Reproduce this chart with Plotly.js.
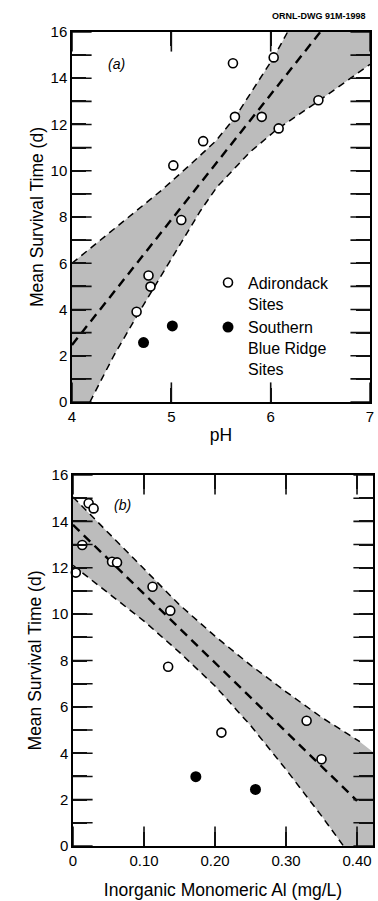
<!DOCTYPE html>
<html>
<head>
<meta charset="utf-8">
<script src="https://cdn.plot.ly/plotly-3.0.1.min.js"></script>
<style>html,body{margin:0;padding:0;background:#fff;}#chart{width:378px;height:901px;}</style>
</head>
<body>
<div id="chart"></div>
<script>
// ---------- Panel (a): survival time vs pH ----------
const phRangeA = [4, 7];
const survRange = [0, 16];
const adkPH   = [5.62, 6.03, 6.48, 5.64, 5.91, 6.08, 5.32, 5.02, 5.10, 4.77, 4.79, 4.65];
const adkSurvA = [14.65, 14.9, 13.05, 12.33, 12.33, 11.83, 11.28, 10.23, 7.87, 5.47, 4.99, 3.9];
const sbrPH   = [4.72, 5.01];
const sbrSurvA = [2.57, 3.29];
// regression line and confidence limits
const fitA_x = [4.0, 6.5];
const fitA_y = [2.47, 16.0];
const upperA_x = [4.0, 4.3, 4.6, 4.9, 5.2, 5.45, 5.64, 6.03, 6.17];
const upperA_y = [6.0, 7.05, 8.1, 9.15, 10.3, 11.3, 12.3, 14.9, 16.0];
const lowerA_x = [4.18, 4.42, 4.65, 4.89, 5.1, 5.29, 5.46, 5.79, 6.06, 6.51, 7.0];
const lowerA_y = [0.0, 2.0, 3.7, 5.4, 6.9, 8.25, 9.3, 10.8, 11.78, 13.1, 14.6];
const xTickValsA = [4, 5, 6, 7];
const xTickTextA = ['4', '5', '6', '7'];

// ---------- Panel (b): survival time vs inorganic monomeric Al ----------
const alRangeB = [0, 0.4225];
const adkAl   = [0.022, 0.029, 0.013, 0.004, 0.055, 0.062, 0.112, 0.137, 0.134, 0.209, 0.329, 0.350];
const adkSurvB = [14.78, 14.56, 12.98, 11.79, 12.26, 12.23, 11.18, 10.15, 7.73, 4.89, 5.40, 3.74];
const sbrAl   = [0.173, 0.257];
const sbrSurvB = [2.99, 2.44];
const fitB_x = [0.0, 0.40];
const fitB_y = [13.85, 1.95];
const upperB_x = [0, 0.05, 0.10, 0.15, 0.20, 0.25, 0.30, 0.35, 0.404];
const upperB_y = [15.05, 13.5, 11.95, 10.4, 9.05, 7.8, 6.65, 5.55, 4.5];
const shadeEdgeB = {x: 0.4225, y: 4.05};   // top of the shading at the right border
const lowerB_x = [0, 0.05, 0.10, 0.15, 0.20, 0.25, 0.30, 0.35, 0.381];
const lowerB_y = [12.1, 10.9, 9.7, 8.35, 6.9, 5.2, 3.3, 1.3, 0.0];
const xTickValsB = [0, 0.10, 0.20, 0.30, 0.40];
const xTickTextB = ['0', '0.10', '0.20', '0.30', '0.40'];

// shared y ticks: a tick at every day, a label at every second one
const yTickVals = [0, 1, 2, 3, 4, 5, 6, 7, 8, 9, 10, 11, 12, 13, 14, 15, 16];
const yTickText = ['0', '', '2', '', '4', '', '6', '', '8', '', '10', '', '12', '', '14', '', '16'];

const FONT = 'Liberation Sans, Arial, Helvetica, sans-serif';
const SHADE = '#bcbcbc';
const TICKC = '#111';
const dashThin = {color: '#000', width: 1.5, dash: '7px,5px'};
const dashThick = {color: '#000', width: 2.4, dash: '9px,6px'};
const openMarker = {symbol: 'circle', size: 9, color: '#fff', line: {color: '#000', width: 1.6}};
const fullMarker = {symbol: 'circle', size: 11, color: '#000', line: {color: '#000', width: 0}};

const W = 378, H = 901;
const M = {l: 70, r: 4, t: 30, b: 53};
const domXA = [0.0066, 0.987], domYA = [0.5452, 0.9976];
const domXB = [0.0099, 0.9967], domYB = [0.00244, 0.456];
const TICK_PX = 14;

// shading polygons built from the limit curves and the axis ranges
const shadeA_x = [phRangeA[0]].concat(upperA_x, [phRangeA[1]], lowerA_x.slice().reverse());
const shadeA_y = [survRange[0]].concat(upperA_y, [survRange[1]], lowerA_y.slice().reverse());
const shadeB_x = upperB_x.concat([shadeEdgeB.x, shadeEdgeB.x], lowerB_x.slice().reverse());
const shadeB_y = upperB_y.concat([shadeEdgeB.y, survRange[0]], lowerB_y.slice().reverse());

// inward ticks as line-shaped markers centred on the frame; the outer half is clipped away
function tickMarkers(xa, ya, xr, yr, xvals, yvals) {
  const hx = [], hy = [], vx = [], vy = [];
  yvals.forEach(v => { hx.push(xr[0], xr[1]); hy.push(v, v); });
  xvals.forEach(v => { vx.push(v, v); vy.push(yr[0], yr[1]); });
  const base = {type: 'scatter', mode: 'markers', hoverinfo: 'skip', showlegend: false,
                xaxis: xa, yaxis: ya, cliponaxis: true};
  return [
    Object.assign({}, base, {x: hx, y: hy, marker: {symbol: 'line-ew', size: 2 * TICK_PX, color: TICKC, line: {color: TICKC, width: 1.6}}}),
    Object.assign({}, base, {x: vx, y: vy, marker: {symbol: 'line-ns', size: 2 * TICK_PX, color: TICKC, line: {color: TICKC, width: 1.6}}})
  ];
}

const traces = [
  {x: shadeA_x, y: shadeA_y, type: 'scatter', mode: 'none', fill: 'toself', fillcolor: SHADE, hoverinfo: 'skip', showlegend: false, xaxis: 'x', yaxis: 'y'},
  {x: upperA_x, y: upperA_y, type: 'scatter', mode: 'lines', line: dashThin, showlegend: false, xaxis: 'x', yaxis: 'y'},
  {x: lowerA_x, y: lowerA_y, type: 'scatter', mode: 'lines', line: dashThin, showlegend: false, xaxis: 'x', yaxis: 'y'},
  {x: fitA_x, y: fitA_y, type: 'scatter', mode: 'lines', line: dashThick, showlegend: false, xaxis: 'x', yaxis: 'y'},
  ...tickMarkers('x', 'y', phRangeA, survRange, xTickValsA, yTickVals),
  {x: adkPH, y: adkSurvA, type: 'scatter', mode: 'markers', marker: openMarker, name: 'Adirondack<br>Sites', xaxis: 'x', yaxis: 'y', cliponaxis: false},
  {x: sbrPH, y: sbrSurvA, type: 'scatter', mode: 'markers', marker: fullMarker, name: 'Southern<br>Blue Ridge<br>Sites', xaxis: 'x', yaxis: 'y'},

  {x: shadeB_x, y: shadeB_y, type: 'scatter', mode: 'none', fill: 'toself', fillcolor: SHADE, hoverinfo: 'skip', showlegend: false, xaxis: 'x2', yaxis: 'y2'},
  {x: upperB_x, y: upperB_y, type: 'scatter', mode: 'lines', line: dashThin, showlegend: false, xaxis: 'x2', yaxis: 'y2'},
  {x: lowerB_x, y: lowerB_y, type: 'scatter', mode: 'lines', line: dashThin, showlegend: false, xaxis: 'x2', yaxis: 'y2'},
  {x: fitB_x, y: fitB_y, type: 'scatter', mode: 'lines', line: dashThick, showlegend: false, xaxis: 'x2', yaxis: 'y2'},
  ...tickMarkers('x2', 'y2', alRangeB, survRange, xTickValsB, yTickVals),
  {x: adkAl, y: adkSurvB, type: 'scatter', mode: 'markers', marker: openMarker, showlegend: false, xaxis: 'x2', yaxis: 'y2', cliponaxis: false},
  {x: sbrAl, y: sbrSurvB, type: 'scatter', mode: 'markers', marker: fullMarker, showlegend: false, xaxis: 'x2', yaxis: 'y2'}
];

const axisBase = {
  showline: true, linecolor: '#000', linewidth: 1.5, mirror: 'ticks',
  ticks: 'inside', ticklen: TICK_PX, tickwidth: 2, tickcolor: TICKC,
  showgrid: false, zeroline: false, fixedrange: true,
  tickfont: {family: FONT, size: 15, color: '#000'}
};
const titleFont = {family: FONT, size: 17.5, color: '#000'};
const ax = (o) => Object.assign({}, axisBase, o);

const layout = {
  width: W, height: H,
  margin: M,
  paper_bgcolor: '#fff', plot_bgcolor: 'rgba(0,0,0,0)',
  font: {family: FONT, color: '#000'},
  showlegend: true,
  legend: {
    x: 0.454, y: 0.712, xanchor: 'left', yanchor: 'top',
    font: {family: FONT, size: 16, color: '#000'},
    bgcolor: 'rgba(0,0,0,0)', borderwidth: 0, valign: 'top',
    itemwidth: 30, tracegroupgap: 2
  },
  xaxis: ax({domain: domXA, anchor: 'y', range: phRangeA,
    tickmode: 'array', tickvals: xTickValsA, ticktext: xTickTextA,
    title: {text: 'pH', font: titleFont, standoff: 5}}),
  yaxis: ax({domain: domYA, anchor: 'x', range: survRange,
    tickmode: 'array', tickvals: yTickVals, ticktext: yTickText,
    title: {text: 'Mean Survival Time (d)', font: titleFont, standoff: 2}}),
  xaxis2: ax({domain: domXB, anchor: 'y2', range: alRangeB,
    tickmode: 'array', tickvals: xTickValsB, ticktext: xTickTextB,
    title: {text: 'Inorganic Monomeric Al (mg/L)', font: titleFont, standoff: 16}}),
  yaxis2: ax({domain: domYB, anchor: 'x2', range: survRange,
    tickmode: 'array', tickvals: yTickVals, ticktext: yTickText,
    title: {text: 'Mean Survival Time (d)', font: titleFont, standoff: 5}}),
  annotations: [
    {text: '<i>(a)</i>', xref: 'x domain', yref: 'y domain', x: 0.114, y: 0.94, showarrow: false,
     font: {family: FONT, size: 14, color: '#000'}},
    {text: '<i>(b)</i>', xref: 'x2 domain', yref: 'y2 domain', x: 0.13, y: 0.946, showarrow: false,
     font: {family: FONT, size: 14, color: '#000'}},
    {text: '<b>ORNL-DWG 91M-1998</b>', xref: 'paper', yref: 'paper', x: 0.98, y: 1.017,
     xanchor: 'right', yanchor: 'middle', showarrow: false,
     font: {family: FONT, size: 9, color: '#000'}}
  ]
};

Plotly.newPlot('chart', traces, layout, {displayModeBar: false});
</script>
</body>
</html>
